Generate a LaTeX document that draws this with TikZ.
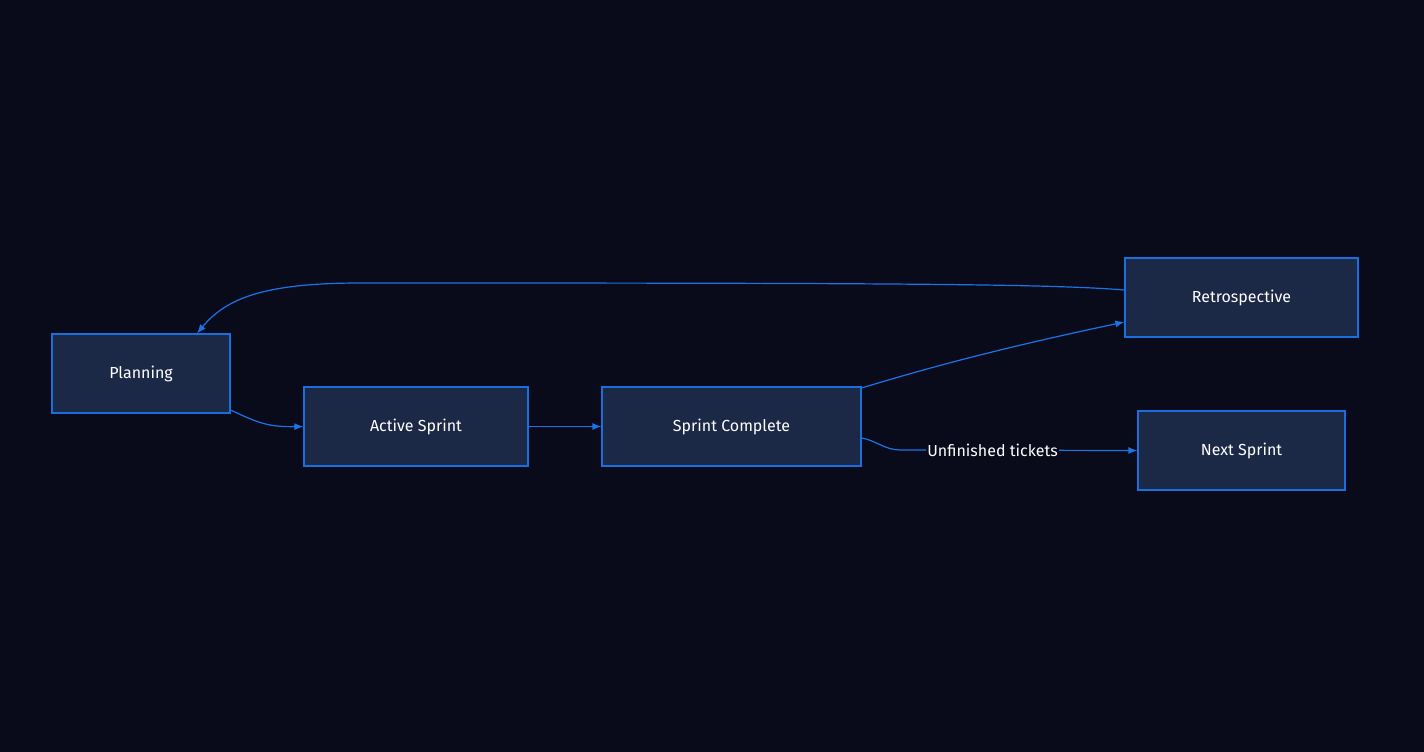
\documentclass[tikz,border=0pt]{standalone}
\usepackage{fontspec}
\setmainfont{Fira Sans}
\usetikzlibrary{arrows.meta}
\definecolor{bg}{HTML}{0A0B1A}
\definecolor{nfill}{HTML}{1B2846}
\definecolor{nline}{HTML}{1A6FE0}
\definecolor{eline}{HTML}{1A73E8}
\begin{document}
\begin{tikzpicture}[x=1pt,y=-1pt,
  box/.style={draw=nline,fill=nfill,line width=1.2pt,text=white,font=\fontsize{16}{18}\selectfont,inner sep=0pt,anchor=center},
  edge/.style={draw=eline,line width=1.2pt,-{Latex[length=9pt,width=7pt]}},
  lbl/.style={fill=bg,text=white,font=\fontsize{16}{18}\selectfont,inner sep=1pt}]
\fill[bg] (0,0) rectangle (1424,752);
\useasboundingbox (0,0) rectangle (1424,752);
\node[box,minimum width=178pt,minimum height=79pt] (plan) at (141,373.5) {Planning};
\node[box,minimum width=224pt,minimum height=79pt] (act) at (416,426.5) {Active Sprint};
\node[box,minimum width=259pt,minimum height=79pt] (comp) at (731.5,426.5) {Sprint Complete};
\node[box,minimum width=233pt,minimum height=79pt] (retro) at (1241.5,297.5) {Retrospective};
\node[box,minimum width=207pt,minimum height=79pt] (next) at (1241.5,450.5) {Next Sprint};
\coordinate (c1) at (380,283);
\draw[edge] (plan.east |- 0,410) .. controls (260,424) and (270,427) .. (act.west);
\draw[edge] (act.east) -- (comp.west);
\draw[edge] (comp.east |- 0,388) .. controls (960,358) and (1040,340) .. (retro.west |- 0,322);
\draw[edge] (retro.west |- 0,290) .. controls (1050,284) and (900,283) .. (c1) -- (360,283) .. controls (260,283) and (225,300) .. (plan.north -| 197,0);
\draw[edge] (comp.east |- 0,438) .. controls (875,440) and (885,450) .. (900,450) -- (next.west) node[lbl,pos=0.39] (l) {Unfinished tickets};
\end{tikzpicture}
\end{document}
